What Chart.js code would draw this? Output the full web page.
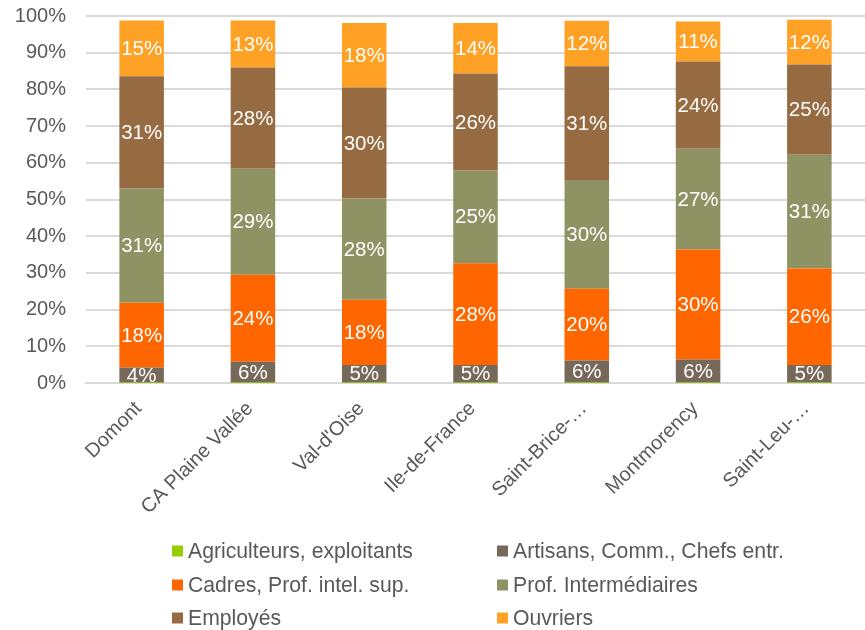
<!DOCTYPE html>
<html>
<head>
<meta charset="utf-8">
<script src="https://cdn.jsdelivr.net/npm/chart.js@4"></script>
<style>
  html, body { margin: 0; padding: 0; background: #fff; }
  #wrap { width: 865px; height: 630px; position: relative; }
</style>
</head>
<body>
<div id="wrap"><canvas id="csp"></canvas></div>
<script>
const communes = ['Domont', 'CA Plaine Vallée', "Val-d'Oise", 'Ile-de-France', 'Saint-Brice-…', 'Montmorency', 'Saint-Leu-…'];

const agriculteurs = [0.1, 0.1, 0.1, 0.1, 0.1, 0.1, 0.1];
const artisans     = [4.1, 5.7, 4.8, 4.8, 6.0, 6.3, 4.8];
const cadres       = [17.7, 23.7, 17.8, 27.7, 19.6, 30.0, 26.3];
const profInter    = [31.1, 28.9, 27.6, 25.4, 29.6, 27.4, 31.0];
const employes     = [30.6, 27.6, 30.2, 26.3, 31.0, 23.8, 24.6];
const ouvriers     = [15.2, 12.8, 17.6, 13.8, 12.4, 10.9, 12.2];

const yTicks = [0, 10, 20, 30, 40, 50, 60, 70, 80, 90, 100];

const FONT = 'Arial, "Liberation Sans", sans-serif';

// white % labels centred in each segment, clipped to the plot area
const segmentLabels = {
    id: 'segmentLabels',
    afterDatasetsDraw(chart) {
        const ctx = chart.ctx;
        const area = chart.chartArea;
        ctx.save();
        ctx.beginPath();
        ctx.rect(area.left, area.top, area.right - area.left, area.bottom - area.top);
        ctx.clip();
        ctx.fillStyle = '#ffffff';
        ctx.font = '20.5px ' + FONT;
        ctx.textAlign = 'center';
        ctx.textBaseline = 'middle';
        chart.data.datasets.forEach((ds, i) => {
            if (ds.noLabels) return;
            chart.getDatasetMeta(i).data.forEach((bar, j) => {
                const v = ds.data[j];
                ctx.fillText(Math.round(v) + '%', bar.x, (bar.y + bar.base) / 2 + 1);
            });
        });
        ctx.restore();
    }
};

// two-column legend under the axis labels
const gridLegend = {
    id: 'gridLegend',
    afterDraw(chart) {
        const ctx = chart.ctx;
        const cols = [172, 497];
        const rows = [551, 585, 618];
        ctx.save();
        ctx.font = '21.2px ' + FONT;
        ctx.textAlign = 'left';
        ctx.textBaseline = 'middle';
        chart.data.datasets.forEach((ds, i) => {
            const x = cols[i % 2];
            const y = rows[Math.floor(i / 2)];
            ctx.fillStyle = ds.backgroundColor;
            ctx.fillRect(x, y - 5.5, 11, 11);
            ctx.fillStyle = '#595959';
            ctx.fillText(ds.label, x + 16, y + 1);
        });
        ctx.restore();
    }
};

new Chart(document.getElementById('csp'), {
    type: 'bar',
    data: {
        labels: communes,
        datasets: [
            { label: 'Agriculteurs, exploitants', data: agriculteurs, backgroundColor: '#99CC00', noLabels: true },
            { label: 'Artisans, Comm., Chefs entr.', data: artisans, backgroundColor: '#76695A' },
            { label: 'Cadres, Prof. intel. sup.', data: cadres, backgroundColor: '#FF6600' },
            { label: 'Prof. Intermédiaires', data: profInter, backgroundColor: '#8F9263' },
            { label: 'Employés', data: employes, backgroundColor: '#966B42' },
            { label: 'Ouvriers', data: ouvriers, backgroundColor: '#FFA124' }
        ]
    },
    options: {
        animation: false,
        responsive: true,
        maintainAspectRatio: false,
        layout: { padding: { top: 16, right: 0, left: 0, bottom: 0 } },
        datasets: {
            bar: { barPercentage: 0.4, categoryPercentage: 1.0, borderWidth: 0 }
        },
        plugins: {
            legend: { display: false },
            tooltip: { enabled: false }
        },
        scales: {
            x: {
                stacked: true,
                grid: { display: false, drawTicks: false },
                border: { display: true, color: '#d9d9d9', width: 2 },
                ticks: {
                    color: '#595959',
                    font: { family: FONT, size: 20 },
                    minRotation: 45,
                    maxRotation: 45,
                    autoSkip: false,
                    padding: 14,
                    labelOffset: -3
                },
                afterFit(scale) {
                    scale.height = 247;
                    scale.paddingTop = 0;
                    scale.paddingRight = 0;
                }
            },
            y: {
                stacked: true,
                min: 0,
                max: 100,
                afterBuildTicks(scale) { scale.ticks = yTicks.map(v => ({ value: v })); },
                grid: { color: '#d9d9d9', lineWidth: 2, drawTicks: false },
                border: { display: false },
                ticks: {
                    color: '#595959',
                    font: { family: FONT, size: 20 },
                    padding: 20,
                    callback: v => v + '%'
                },
                afterFit(scale) {
                    scale.width = 86;
                    scale.paddingTop = 0;
                    scale.paddingBottom = 0;
                }
            }
        }
    },
    plugins: [segmentLabels, gridLegend]
});
</script>
</body>
</html>
